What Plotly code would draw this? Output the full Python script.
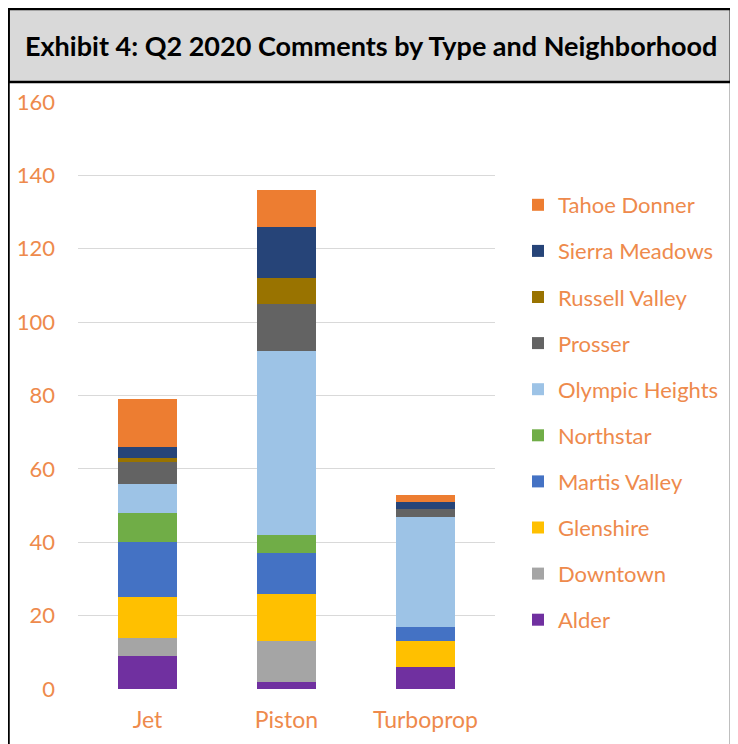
import plotly.graph_objects as go

categories = ["Jet", "Piston", "Turboprop"]
neighborhoods = ["Alder", "Downtown", "Glenshire", "Martis Valley", "Northstar",
                 "Olympic Heights", "Prosser", "Russell Valley", "Sierra Meadows", "Tahoe Donner"]
alder = [9, 2, 6]
downtown = [5, 11, 0]
glenshire = [11, 13, 7]
martis_valley = [15, 11, 4]
northstar = [8, 5, 0]
olympic_heights = [8, 50, 30]
prosser = [6, 13, 2]
russell_valley = [1, 7, 0]
sierra_meadows = [3, 14, 2]
tahoe_donner = [13, 10, 2]
series = [alder, downtown, glenshire, martis_valley, northstar,
          olympic_heights, prosser, russell_valley, sierra_meadows, tahoe_donner]
colors = ["#7030A0", "#A5A5A5", "#FFC000", "#4472C4", "#70AD47",
          "#9DC3E6", "#636363", "#997300", "#264478", "#ED7D31"]
y_ticks = [0, 20, 40, 60, 80, 100, 120, 140, 160]
title = "Exhibit 4: Q2 2020 Comments by Type and Neighborhood"

# page has an 8px body margin; figure fills the rest of the 738x744 window
OFF = 8
W, H = 738 - OFF, 744 - OFF
ORANGE = "#EE8A4C"


def px(x):
    return (x - OFF) / W


def py(y):
    return 1 - (y - OFF) / H


fig = go.Figure()
n = len(neighborhoods)
for i, (name, vals, col) in enumerate(zip(neighborhoods, series, colors)):
    fig.add_trace(go.Bar(x=categories, y=vals, name=name, marker_color=col,
                         marker_line_width=0, legendgroup=name,
                         legendrank=1000 + (n - i)))

fig.update_layout(
    width=W, height=H, barmode="stack", bargap=0.58,
    margin=dict(l=0, r=0, t=0, b=0, autoexpand=False),
    paper_bgcolor="white", plot_bgcolor="white",
    font=dict(family="Lato", color=ORANGE, size=22),
    showlegend=True,
    legend=dict(x=px(518), y=py(184), xanchor="left", yanchor="top",
                traceorder="grouped", tracegroupgap=14.5,
                font=dict(size=22, color=ORANGE), itemwidth=30,
                bgcolor="rgba(0,0,0,0)"),
    xaxis=dict(domain=[px(78), px(495)], range=[-0.5, 2.5], showline=False,
               ticks="", ticklabelstandoff=15,
               tickfont=dict(size=23, color=ORANGE), fixedrange=True),
    yaxis=dict(domain=[py(689), py(102)], range=[0, 160],
               tickvals=y_ticks, showgrid=True, gridcolor="#D9D9D9", gridwidth=1,
               zeroline=False, showline=False, ticks="", ticklabelstandoff=22,
               tickfont=dict(size=22, color=ORANGE), fixedrange=True),
    shapes=[
        dict(type="rect", xref="paper", yref="paper", x0=px(8.5), x1=px(731),
             y0=py(82), y1=py(9), fillcolor="#D9D9D9",
             line=dict(color="black", width=2.5), layer="below"),
        dict(type="line", xref="paper", yref="paper", x0=px(8.5), x1=px(8.5),
             y0=-0.01, y1=py(9), line=dict(color="black", width=2.5)),
        dict(type="line", xref="paper", yref="paper", x0=px(731), x1=px(731),
             y0=-0.01, y1=py(9), line=dict(color="black", width=2.5)),
    ],
    annotations=[
        dict(text="<b>" + title + "</b>", xref="paper", yref="paper",
             x=px(371), y=py(46), xanchor="center", yanchor="middle",
             showarrow=False, font=dict(family="Lato", size=27, color="black")),
    ],
)

fig.write_html("out.html")
